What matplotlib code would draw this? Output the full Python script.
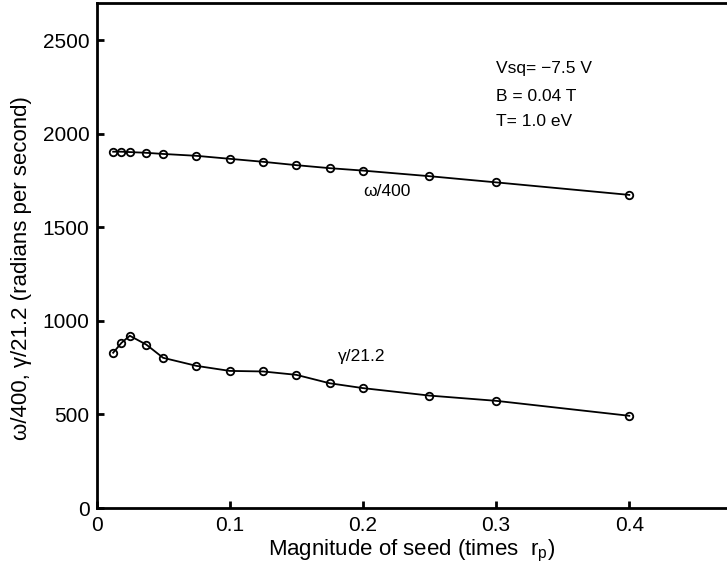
import matplotlib
matplotlib.use("Agg")
import matplotlib.pyplot as plt

plt.rcParams['font.family'] = ['Liberation Sans', 'DejaVu Sans']
plt.rcParams['mathtext.fontset'] = 'custom'
plt.rcParams['mathtext.rm'] = 'Liberation Sans'
plt.rcParams['mathtext.it'] = 'Liberation Sans'

seed = [0.0125, 0.01875, 0.025, 0.0375, 0.05, 0.075, 0.1, 0.125, 0.15, 0.175, 0.2, 0.25, 0.3, 0.4]
omega_400 = [1905, 1905, 1903, 1899, 1893, 1883, 1867, 1851, 1833, 1817, 1804, 1774, 1741, 1674]
gamma_21 = [830, 883, 921, 873, 803, 760, 733, 730, 712, 667, 641, 601, 573, 493]

xticks = [0, 0.1, 0.2, 0.3, 0.4]
xticklabels = ['0', '0.1', '0.2', '0.3', '0.4']
yticks = [0, 500, 1000, 1500, 2000, 2500]

W, H = 727, 570
fig = plt.figure(figsize=(W / 100, H / 100), dpi=100)
left_px, right_px, top_px, bot_px = 96.5, 96.5 + 666, 3, 508
ax = fig.add_axes([left_px / W, 1 - bot_px / H, (right_px - left_px) / W, (bot_px - top_px) / H])

for ys in (omega_400, gamma_21):
    ax.plot(seed, ys, color='black', lw=1.3, marker='o', ms=5.4,
            mfc='none', mec='black', mew=1.3)

ax.set_xlim(0, 0.5)
ax.set_ylim(0, 2700)
ax.set_xticks(xticks)
ax.set_xticklabels(xticklabels)
ax.set_yticks(yticks)
ax.tick_params(direction='in', length=5, width=2, labelsize=15)
ax.tick_params(axis='x', pad=6)
ax.tick_params(axis='y', pad=5)
for s in ('left', 'bottom', 'top', 'right'):
    ax.spines[s].set_linewidth(2)

fig.text(22 / W, 1 - 268 / H, 'ω/400, γ/21.2 (radians per second)', fontsize=16,
         rotation=90, ha='center', va='center')
fig.text(412 / W, 1 - 551 / H, 'Magnitude of seed (times  $\\mathrm{r_p}$)', fontsize=16,
         ha='center', va='center')

ax.text(0.2001, 1692, 'ω/400', fontsize=12.5, ha='left', va='center')
ax.text(0.1813, 808, 'γ/21.2', fontsize=12.5, ha='left', va='center')
ax.text(0.2999, 2350, 'Vsq= \u22127.5 V', fontsize=12.5, ha='left', va='center')
ax.text(0.2999, 2202, 'B = 0.04 T', fontsize=12.5, ha='left', va='center')
ax.text(0.2999, 2068, 'T= 1.0 eV', fontsize=12.5, ha='left', va='center')

fig.savefig('out.png', dpi=100)
